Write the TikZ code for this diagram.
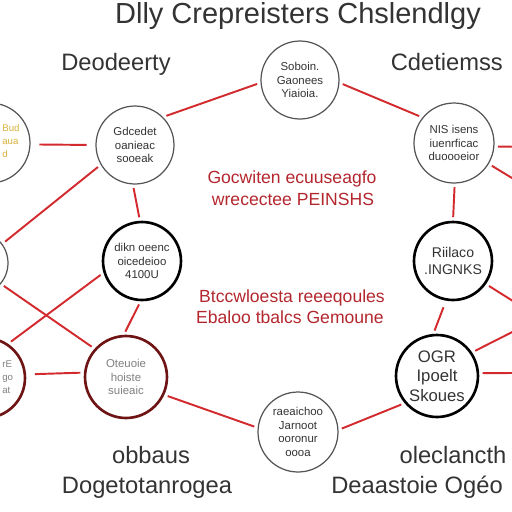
\documentclass[tikz,border=0pt]{standalone}
\usepackage{fontspec}
\setmainfont{Liberation Sans}
\usetikzlibrary{positioning}
\definecolor{NetRed}{HTML}{D32A2E}
\definecolor{NetWine}{HTML}{6E1414}
\definecolor{NetText}{HTML}{B3262E}
\definecolor{NetGray}{HTML}{555555}
\definecolor{NetInk}{HTML}{333333}
\definecolor{NetGold}{HTML}{D8B23C}

\begin{document}
\begin{tikzpicture}[
  x=0.02cm, y=-0.02cm,
  thinnode/.style={circle, draw=NetGray, line width=0.7pt, minimum size=1.56cm, inner sep=0pt, align=center, font=\fontsize{6.5}{7.8}\selectfont, text=NetInk},
  boldnode/.style={thinnode, draw=black, line width=1.5pt},
  winenode/.style={thinnode, draw=NetWine, line width=1.5pt, text=gray},
  edgetext/.style={anchor=west, align=left, inner sep=0pt, font=\fontsize{5.5}{7.5}\selectfont},
  link/.style={draw=NetRed, line width=1.1pt, shorten <=2pt, shorten >=2pt},
  heading/.style={font=\fontsize{13.5}{15}\selectfont, text=NetInk, anchor=base},
  note/.style={font=\fontsize{10}{12}\selectfont, text=NetText, anchor=base}
]
\useasboundingbox (0,0) rectangle (512,512);
\clip (0,0) rectangle (512,512);

% titles
\node[heading, font=\fontsize{16.5}{18}\selectfont] (title) at (298,23) {Dlly Crepreisters Chslendlgy};
\node[heading] (lhead) at (116,70) {Deodeerty};
\node[heading, anchor=base east] (rhead) at (509,70) {Cdetiemss};

% circles
\node[thinnode] (top) at (300,80) {Soboin.\\Gaonees\\Yiaioia.};
\node[thinnode] (lup) at (135,145) {Gdcedet\\oanieac\\sooeak};
\node[thinnode, minimum size=1.6cm] (farlup) at (-10,143) {};
\node[edgetext, text=NetGold] (farluptext) at (2,141) {Bud\\aua\\d};
\node[boldnode] (lmid) at (142,261) {dikn oeenc\\oicedeioo\\4100U};
\node[thinnode, minimum size=1.28cm] (farlmid) at (-24,263) {};
\node[winenode, minimum size=1.64cm] (llow) at (126,377) {Oteuoie\\hoiste\\suieaic};
\node[winenode, minimum size=1.6cm] (farllow) at (-15,378) {};
\node[edgetext, text=gray] (farllowtext) at (2,377) {rE\\go\\at};
\node[thinnode, minimum size=1.6cm] (bot) at (298,432) {raeaichoo\\Jarnoot\\ooronur\\oooa};
\node[boldnode, minimum size=1.64cm, font=\fontsize{9.5}{11}\selectfont] (rlow) at (437,376) {OGR\\Ipoelt\\Skoues};
\node[boldnode, font=\fontsize{8}{10}\selectfont] (rmid) at (453,261) {Riilaco\\.INGNKS};
\node[thinnode, minimum size=1.6cm] (rup) at (454,143) {NIS isens\\iuenrficac\\duoooeior};

% red notes
\node[note] (noteA) at (292,183) {Gocwiten ecuuseagfo};
\node[note] (noteB) at (293,205) {wrecectee PEINSHS};
\node[note] (noteC) at (292,302) {Btccwloesta reeeqoules};
\node[note] (noteD) at (290,323) {Ebaloo tbalcs Gemoune};

% bottom labels
\node[heading] (blA) at (151,463) {obbaus};
\node[heading] (blB) at (147,493) {Dogetotanrogea};
\node[heading] (brA) at (453,463) {oleclancth};
\node[heading, anchor=base east] (brB) at (509,493) {Deaastoie Ogéo};

% loose ends off the right edge
\coordinate (outa) at (540,147);
\coordinate (outb) at (540,195);
\coordinate (outc) at (540,318);
\coordinate (outd) at (540,373);

% links
\draw[link] (lup.45) -- (top.184);
\draw[link] (top.-4) -- (rup.141);
\draw[link, shorten <=5pt, shorten >=5pt] (farlup.-2) -- (lup.180);
\draw[link] (lup.-93) -- (lmid.93);
\draw[link] (lup.210) -- (farlmid.36);
\draw[link] (farlmid.-40) -- (llow.138);
\draw[link] (lmid.197) -- (farllow.56);
\draw[link, shorten <=5pt] (farllow.5) -- (llow.174);
\draw[link] (lmid.-92) -- (llow.93);
\draw[link] (llow.-25) -- (bot.174);
\draw[link] (bot.3) -- (rlow.220);
\draw[link, shorten <=4pt] (rmid.-100) -- (rlow.95);
\draw[link] (rup.-89) -- (rmid.90);
\draw[link] (rup.-5) -- (outa);
\draw[link] (rup.-31) -- (outb);
\draw[link] (rmid.-35) -- (outc);
\draw[link] (rlow.34) -- (outc);
\draw[link] (rlow.4) -- (outd);
\end{tikzpicture}
\end{document}
